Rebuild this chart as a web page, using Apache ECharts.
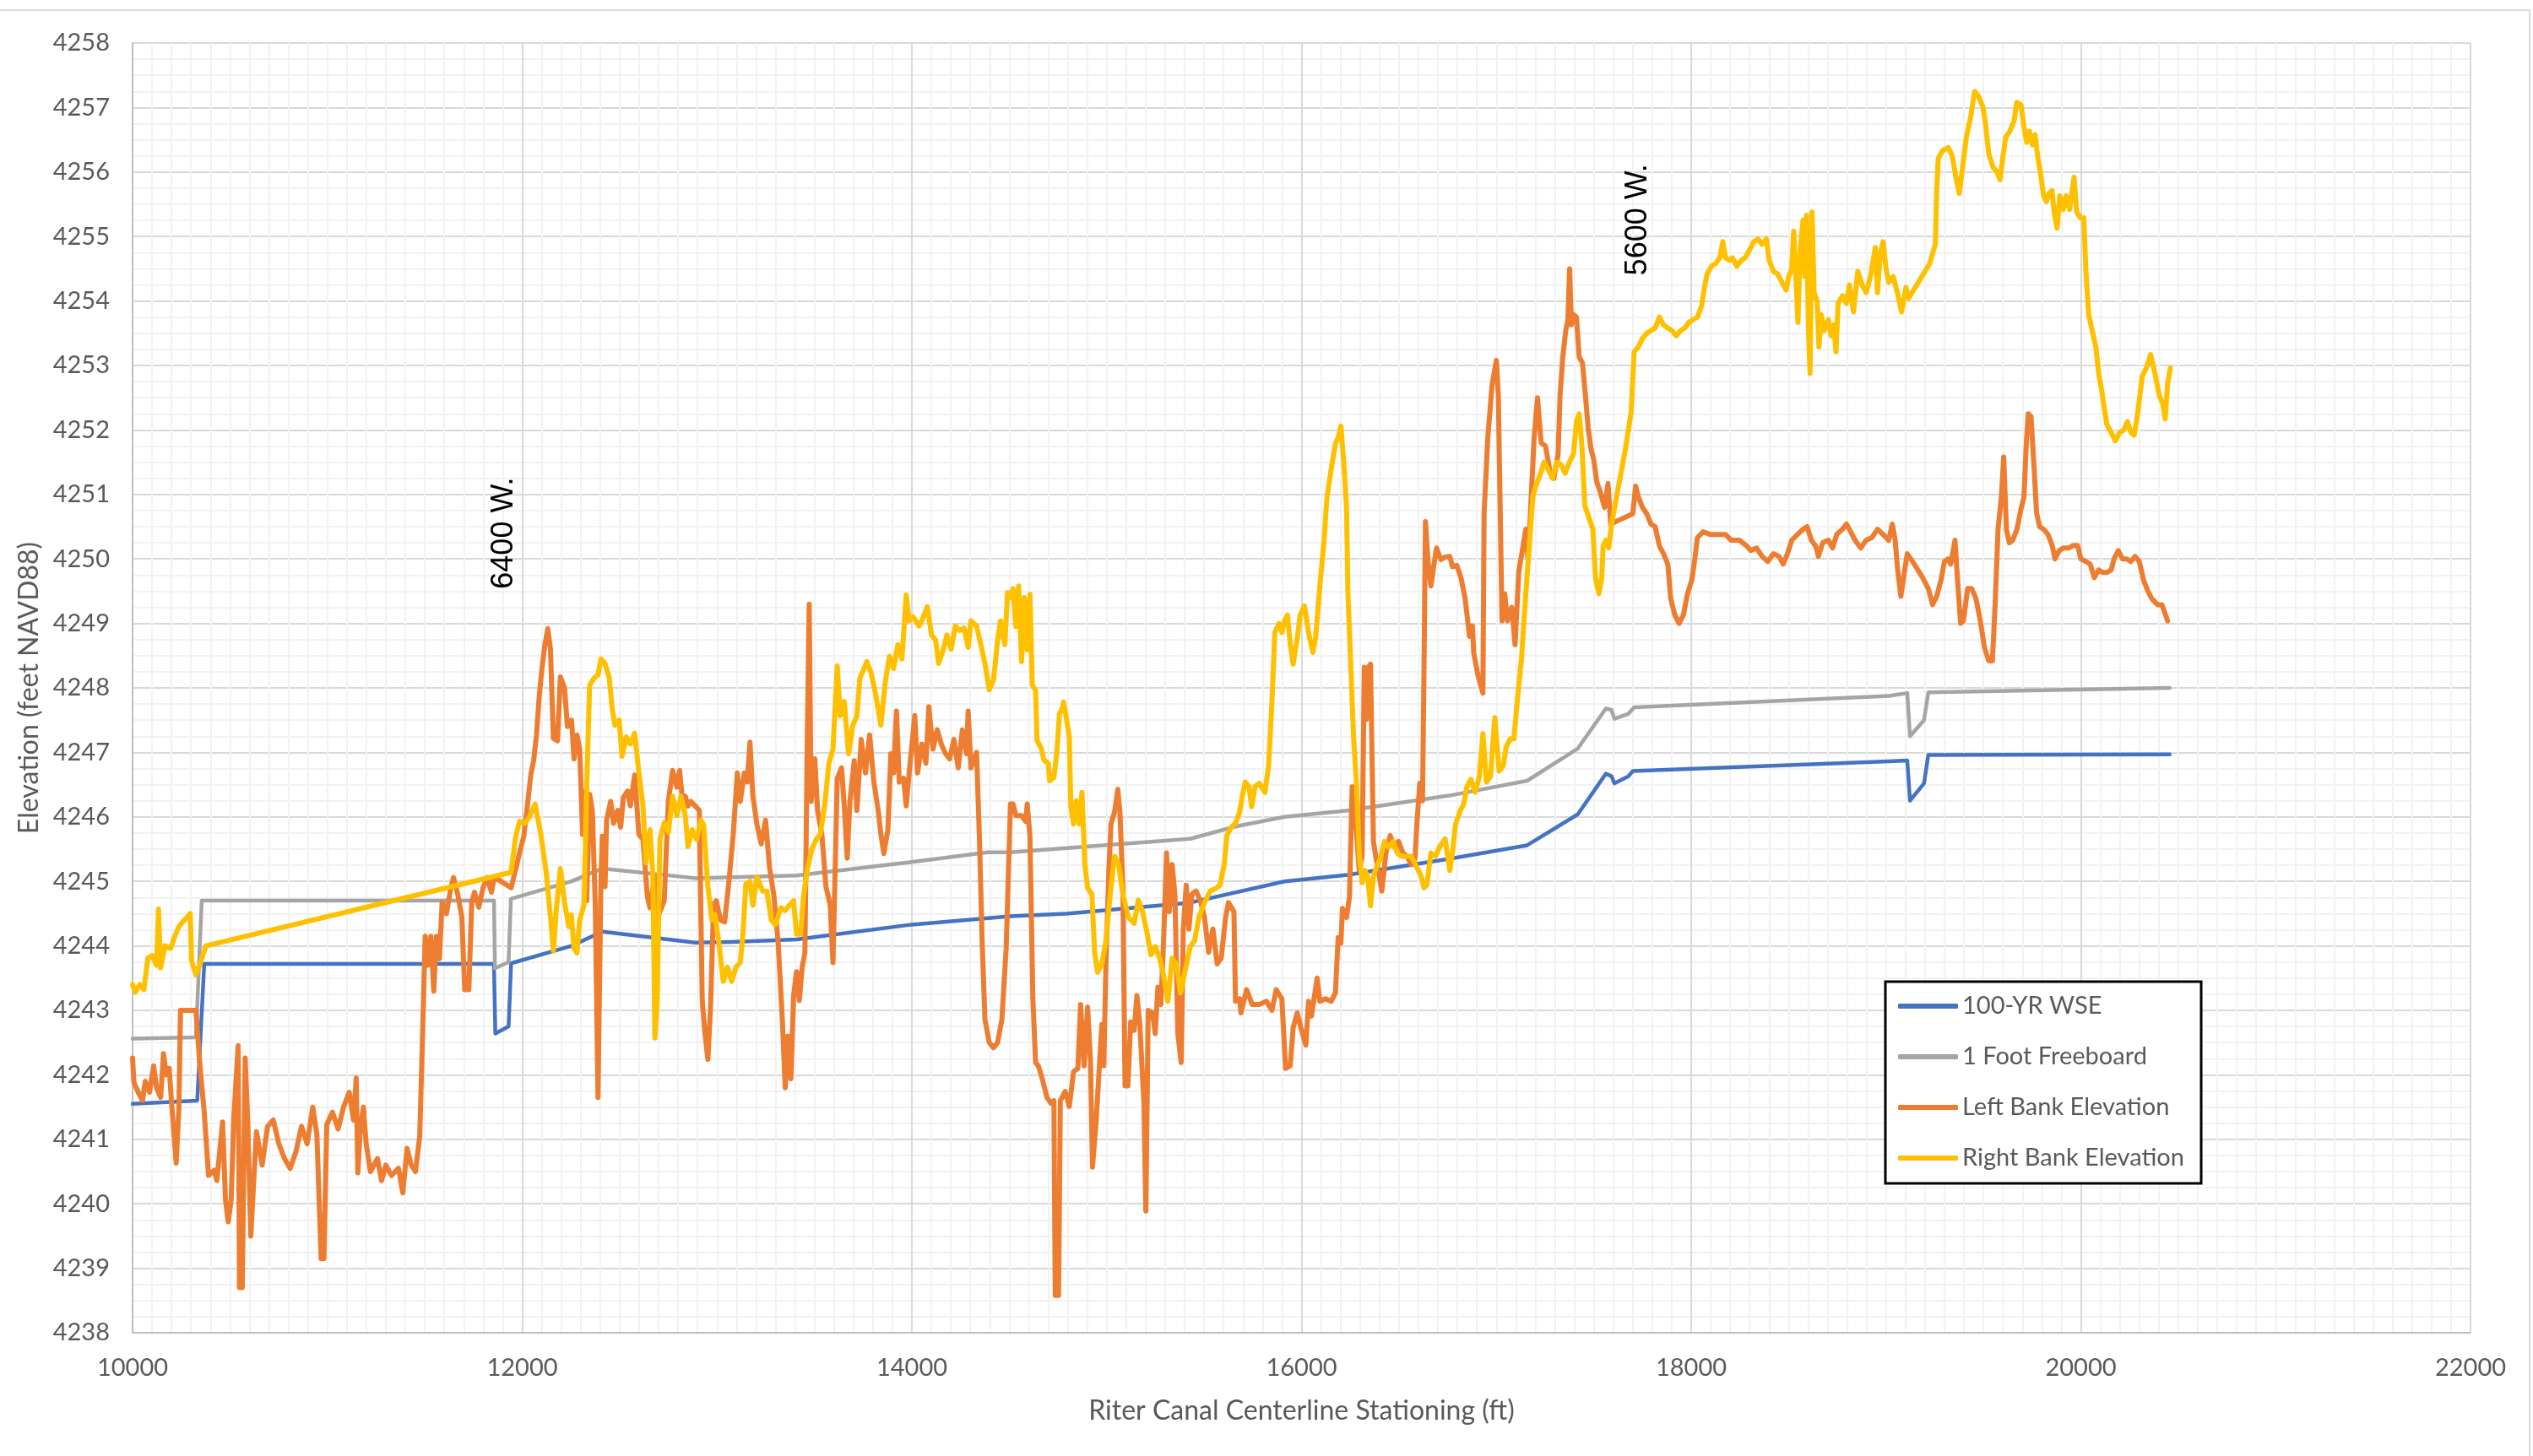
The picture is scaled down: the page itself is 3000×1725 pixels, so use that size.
<!DOCTYPE html>
<html>
<head>
<meta charset="utf-8">
<title>Riter Canal Bank Elevations</title>
<script src="https://cdn.jsdelivr.net/npm/echarts@6/dist/echarts.min.js"></script>
<style>
  html, body { margin: 0; padding: 0; background: #ffffff; }
  #chart { width: 3000px; height: 1725px; }
</style>
</head>
<body>
<div id="chart"></div>
<script>
// Axis ranges (feet of stationing / feet NAVD88)
const stationAxis = { min: 10000, max: 22000, step: 2000, minorSplit: 20 };
const elevationAxis = { min: 4238, max: 4258, step: 1, minorSplit: 4 };

// Series names
const seriesNames = ['100-YR WSE', '1 Foot Freeboard', 'Left Bank Elevation', 'Right Bank Elevation'];

// [station, elevation] pairs
const wse100yr = [
  [10000,4241.55],[10332,4241.6],[10368,4243.72],[11855,4243.72],[11862,4242.64],[11930,4242.75],
  [11943,4243.73],[12253,4244.0],[12411,4244.22],[12888,4244.05],[13075,4244.06],[13408,4244.1],
  [14000,4244.33],[14506,4244.46],[14793,4244.5],[15429,4244.67],[15913,4245.0],[16238,4245.1],
  [16758,4245.35],[17158,4245.56],[17418,4246.04],[17562,4246.67],[17591,4246.63],[17606,4246.52],
  [17678,4246.63],[17700,4246.71],[19014,4246.86],[19109,4246.875],[19123,4246.25],[19195,4246.52],
  [19217,4246.96],[20456,4246.97]
];

const freeboard1ft = [
  [10000,4242.56],[10325,4242.58],[10355,4244.7],[11855,4244.7],[11860,4243.65],[11930,4243.75],
  [11942,4244.73],[12253,4245.0],[12411,4245.2],[12888,4245.05],[13408,4245.09],[14000,4245.3],
  [14390,4245.45],[14506,4245.45],[15429,4245.66],[15660,4245.85],[15913,4246.0],[16238,4246.1],
  [16758,4246.33],[17158,4246.56],[17418,4247.06],[17562,4247.68],[17591,4247.66],[17606,4247.52],
  [17678,4247.6],[17707,4247.7],[19014,4247.875],[19109,4247.92],[19123,4247.25],[19195,4247.5],
  [19217,4247.93],[20456,4248.0]
];

const leftBank = [
  [10000,4242.26],[10007,4241.88],[10029,4241.73],[10051,4241.6],[10065,4241.9],[10087,4241.73],[10108,4242.14],
  [10123,4241.8],[10144,4241.65],[10159,4242.33],[10173,4242.0],[10188,4242.1],[10202,4241.5],[10224,4240.63],
  [10238,4241.5],[10246,4243.0],[10325,4243.0],[10347,4242.1],[10368,4241.42],[10390,4240.44],[10419,4240.52],
  [10433,4240.36],[10462,4241.27],[10477,4240.06],[10491,4239.72],[10506,4240.06],[10520,4241.35],[10535,4242.1],
  [10542,4242.45],[10549,4238.7],[10563,4238.7],[10578,4242.26],[10592,4241.2],[10607,4239.5],[10621,4240.3],
  [10636,4241.12],[10665,4240.6],[10693,4241.2],[10722,4241.3],[10751,4240.93],[10780,4240.7],[10809,4240.55],
  [10838,4240.8],[10867,4241.2],[10896,4240.93],[10925,4241.5],[10946,4241.08],[10968,4239.15],[10982,4239.15],
  [10997,4241.23],[11026,4241.42],[11055,4241.16],[11083,4241.5],[11112,4241.73],[11134,4241.3],[11148,4241.95],
  [11156,4240.48],[11170,4241.2],[11185,4241.5],[11199,4240.93],[11221,4240.5],[11257,4240.7],[11278,4240.36],
  [11300,4240.6],[11329,4240.44],[11365,4240.55],[11387,4240.17],[11409,4240.86],[11430,4240.6],[11452,4240.5],
  [11474,4241.05],[11488,4242.56],[11502,4244.15],[11517,4243.7],[11531,4244.15],[11546,4243.3],[11560,4244.15],
  [11575,4243.8],[11589,4244.68],[11611,4244.5],[11632,4244.87],[11647,4245.06],[11669,4244.8],[11690,4244.45],
  [11705,4243.32],[11726,4243.32],[11741,4244.68],[11755,4244.83],[11777,4244.6],[11799,4244.9],[11820,4245.06],
  [11842,4244.83],[11856,4245.06],[11892,4245.0],[11943,4244.9],[11965,4245.17],[11986,4245.44],[12008,4245.7],
  [12022,4246.05],[12044,4246.65],[12059,4246.88],[12073,4247.26],[12087,4247.86],[12102,4248.32],[12116,4248.66],
  [12131,4248.92],[12145,4248.6],[12160,4247.22],[12181,4247.18],[12196,4248.17],[12217,4248.0],[12232,4247.4],
  [12253,4247.5],[12266,4246.9],[12281,4247.27],[12295,4247.05],[12310,4245.73],[12324,4246.4],[12331,4244.7],
  [12346,4246.35],[12360,4246.1],[12375,4244.63],[12389,4241.65],[12404,4245.0],[12411,4245.7],[12425,4244.92],
  [12433,4245.95],[12454,4246.24],[12469,4245.9],[12490,4246.1],[12505,4245.84],[12519,4246.3],[12541,4246.4],
  [12555,4246.17],[12577,4246.65],[12599,4245.73],[12620,4245.65],[12642,4244.77],[12656,4244.59],[12678,4245.07],
  [12700,4244.48],[12729,4244.7],[12750,4246.24],[12772,4246.72],[12794,4246.46],[12808,4246.72],[12823,4246.24],
  [12837,4246.32],[12851,4246.17],[12866,4246.24],[12888,4246.17],[12909,4246.1],[12924,4243.15],[12938,4242.64],
  [12953,4242.24],[12967,4243.08],[12982,4244.63],[12996,4244.7],[13018,4244.4],[13039,4244.37],[13061,4245.0],
  [13083,4245.73],[13104,4246.68],[13119,4246.24],[13140,4246.68],[13155,4246.54],[13169,4247.16],[13184,4246.32],
  [13205,4245.88],[13227,4245.58],[13249,4245.95],[13270,4245.2],[13292,4244.77],[13314,4244.04],[13336,4242.8],
  [13350,4241.8],[13364,4242.6],[13379,4241.94],[13393,4243.23],[13408,4243.6],[13422,4243.15],[13437,4243.67],
  [13451,4243.89],[13463,4247.2],[13473,4249.3],[13483,4246.24],[13502,4246.9],[13516,4246.1],[13538,4245.73],
  [13559,4244.92],[13581,4244.63],[13595,4243.74],[13617,4246.6],[13639,4246.76],[13653,4246.17],[13668,4245.36],
  [13682,4246.24],[13704,4246.87],[13718,4246.1],[13740,4247.2],[13762,4246.68],[13783,4247.27],[13805,4246.54],
  [13827,4246.1],[13841,4245.73],[13856,4245.43],[13877,4245.8],[13892,4246.98],[13906,4246.68],[13921,4247.64],
  [13935,4246.54],[13957,4246.6],[13971,4246.17],[13986,4246.68],[14015,4247.57],[14029,4246.68],[14051,4247.13],
  [14072,4246.83],[14087,4247.71],[14108,4247.05],[14130,4247.35],[14151,4247.13],[14173,4246.98],[14194,4246.9],
  [14216,4247.2],[14238,4246.76],[14259,4247.35],[14281,4246.98],[14289,4247.64],[14303,4246.76],[14332,4247.0],
  [14347,4245.65],[14361,4244.04],[14375,4242.86],[14397,4242.5],[14419,4242.42],[14440,4242.5],[14462,4242.86],
  [14484,4243.96],[14506,4246.2],[14519,4246.2],[14534,4246.02],[14563,4246.02],[14584,4245.93],[14592,4246.2],
  [14606,4245.7],[14621,4243.18],[14635,4242.19],[14649,4242.14],[14671,4241.92],[14693,4241.65],[14714,4241.56],
  [14729,4241.6],[14736,4238.58],[14753,4238.58],[14762,4241.6],[14787,4241.74],[14808,4241.51],[14830,4242.05],
  [14852,4242.1],[14866,4243.09],[14884,4242.14],[14902,4243.05],[14917,4242.19],[14927,4240.57],[14946,4241.29],
  [14960,4242.01],[14975,4242.78],[14985,4242.14],[14996,4243.72],[15011,4245.17],[15022,4245.89],[15040,4246.07],
  [15057,4246.43],[15068,4246.07],[15083,4244.9],[15094,4241.83],[15109,4241.83],[15123,4242.82],[15141,4242.69],
  [15155,4243.23],[15170,4242.78],[15191,4241.56],[15201,4239.89],[15213,4243.0],[15235,4242.96],[15249,4242.64],
  [15263,4243.36],[15278,4243.09],[15292,4244.08],[15307,4245.44],[15321,4244.53],[15336,4245.26],[15350,4244.8],
  [15365,4242.64],[15382,4242.19],[15393,4244.26],[15408,4244.94],[15422,4244.26],[15437,4244.8],[15458,4244.85],
  [15480,4244.71],[15502,4244.44],[15523,4243.9],[15545,4244.26],[15567,4243.72],[15588,4243.81],[15610,4244.44],
  [15625,4244.67],[15653,4244.53],[15661,4243.14],[15682,4243.18],[15689,4242.96],[15718,4243.32],[15747,4243.09],
  [15783,4243.09],[15820,4243.14],[15848,4243.0],[15870,4243.32],[15899,4243.18],[15918,4242.1],[15942,4242.14],
  [15957,4242.73],[15978,4242.96],[16000,4242.69],[16022,4242.46],[16036,4243.14],[16051,4242.91],[16080,4243.5],
  [16094,4243.14],[16123,4243.18],[16152,4243.14],[16174,4243.27],[16188,4244.13],[16202,4244.04],[16210,4244.58],
  [16231,4244.44],[16246,4244.76],[16260,4246.47],[16275,4246.07],[16296,4245.17],[16311,4245.39],[16322,4248.32],
  [16332,4247.51],[16343,4248.32],[16354,4248.37],[16369,4245.62],[16383,4245.35],[16397,4245.12],[16412,4244.85],
  [16433,4245.44],[16455,4245.71],[16477,4245.53],[16498,4245.62],[16520,4245.44],[16542,4245.39],[16563,4245.26],
  [16582,4245.35],[16592,4245.89],[16607,4246.52],[16621,4246.25],[16628,4248.14],[16636,4250.58],[16650,4249.94],
  [16664,4249.58],[16679,4249.9],[16693,4250.17],[16715,4249.99],[16737,4250.03],[16761,4250.04],[16775,4249.88],
  [16797,4249.9],[16819,4249.7],[16840,4249.38],[16862,4248.8],[16877,4248.96],[16884,4248.54],[16905,4248.2],
  [16931,4247.92],[16937,4250.7],[16956,4251.88],[16978,4252.7],[17000,4253.08],[17010,4252.54],[17029,4249.04],
  [17043,4249.46],[17057,4249.04],[17079,4249.25],[17096,4248.67],[17115,4249.8],[17137,4250.2],[17151,4250.46],
  [17163,4249.96],[17180,4251.04],[17194,4251.88],[17211,4252.5],[17230,4251.8],[17252,4251.75],[17274,4251.38],
  [17295,4251.25],[17317,4251.63],[17327,4252.54],[17341,4253.13],[17356,4253.54],[17367,4253.7],[17376,4254.5],
  [17385,4253.63],[17396,4253.79],[17411,4253.75],[17425,4253.13],[17442,4253.04],[17457,4252.54],[17471,4252.04],
  [17486,4251.7],[17500,4251.54],[17515,4251.2],[17533,4251.04],[17555,4250.8],[17573,4251.17],[17587,4250.54],
  [17613,4250.58],[17700,4250.7],[17715,4251.13],[17729,4250.96],[17750,4250.8],[17772,4250.7],[17793,4250.54],
  [17815,4250.5],[17837,4250.2],[17858,4250.08],[17880,4249.92],[17895,4249.38],[17916,4249.13],[17938,4249.0],
  [17960,4249.13],[17981,4249.46],[18003,4249.67],[18017,4249.96],[18032,4250.33],[18061,4250.42],[18097,4250.38],
  [18133,4250.38],[18176,4250.38],[18205,4250.29],[18248,4250.29],[18285,4250.2],[18306,4250.13],[18335,4250.17],
  [18364,4250.04],[18393,4249.96],[18422,4250.08],[18451,4250.04],[18472,4249.92],[18494,4250.08],[18516,4250.29],
  [18545,4250.38],[18574,4250.46],[18595,4250.5],[18617,4250.29],[18639,4250.2],[18653,4250.04],[18675,4250.25],
  [18704,4250.29],[18726,4250.17],[18747,4250.38],[18776,4250.46],[18797,4250.54],[18819,4250.42],[18841,4250.29],
  [18870,4250.17],[18898,4250.29],[18927,4250.33],[18956,4250.46],[18985,4250.38],[19014,4250.29],[19032,4250.54],
  [19047,4250.29],[19058,4249.88],[19076,4249.42],[19094,4249.79],[19109,4250.08],[19145,4249.92],[19188,4249.71],
  [19217,4249.54],[19239,4249.29],[19260,4249.42],[19282,4249.67],[19300,4249.96],[19318,4250.0],[19332,4249.92],
  [19354,4250.29],[19368,4249.63],[19383,4249.0],[19397,4249.04],[19419,4249.54],[19440,4249.54],[19462,4249.38],
  [19484,4249.04],[19505,4248.63],[19527,4248.42],[19546,4248.42],[19560,4249.29],[19575,4250.46],[19592,4250.96],
  [19604,4251.58],[19618,4250.46],[19633,4250.25],[19650,4250.29],[19672,4250.46],[19691,4250.75],[19708,4250.96],
  [19720,4251.79],[19730,4252.25],[19744,4252.21],[19759,4251.46],[19773,4250.71],[19788,4250.5],[19809,4250.46],
  [19831,4250.38],[19853,4250.21],[19867,4250.0],[19889,4250.13],[19910,4250.17],[19939,4250.17],[19961,4250.21],
  [19983,4250.21],[20000,4250.0],[20026,4249.96],[20048,4249.92],[20069,4249.71],[20091,4249.83],[20113,4249.79],
  [20134,4249.79],[20156,4249.83],[20170,4250.0],[20192,4250.13],[20214,4250.0],[20236,4250.0],[20257,4249.96],
  [20278,4250.04],[20300,4249.96],[20322,4249.67],[20344,4249.5],[20365,4249.38],[20394,4249.29],[20416,4249.29],
  [20430,4249.17],[20445,4249.04]
];

const rightBank = [
  [10000,4243.4],[10014,4243.28],[10036,4243.4],[10058,4243.32],[10079,4243.81],[10101,4243.85],[10123,4243.7],
  [10133,4244.57],[10144,4243.66],[10166,4244.0],[10195,4243.96],[10217,4244.15],[10238,4244.3],[10260,4244.38],
  [10282,4244.45],[10296,4244.5],[10303,4243.77],[10325,4243.55],[10347,4243.73],[10376,4244.0],[11943,4245.14],
  [11965,4245.67],[11986,4245.93],[12015,4245.9],[12037,4246.0],[12066,4246.2],[12095,4245.74],[12123,4245.14],
  [12145,4244.45],[12160,4243.92],[12174,4244.53],[12196,4245.2],[12217,4244.68],[12239,4244.3],[12252,4244.48],
  [12266,4243.96],[12281,4243.89],[12295,4244.4],[12317,4244.63],[12331,4246.46],[12346,4248.04],[12368,4248.15],
  [12389,4248.2],[12404,4248.45],[12425,4248.38],[12447,4248.15],[12461,4247.7],[12476,4247.42],[12498,4247.5],
  [12512,4246.94],[12534,4247.24],[12555,4247.13],[12577,4247.3],[12599,4246.68],[12620,4246.17],[12635,4245.29],
  [12656,4245.8],[12671,4245.07],[12681,4242.57],[12693,4243.15],[12707,4245.65],[12729,4245.91],[12750,4245.76],
  [12772,4246.32],[12794,4246.02],[12815,4246.32],[12837,4246.02],[12851,4245.54],[12873,4245.8],[12895,4245.65],
  [12917,4245.95],[12931,4245.88],[12953,4244.92],[12974,4244.4],[12989,4244.48],[13010,4244.04],[13032,4243.45],
  [13054,4243.67],[13075,4243.45],[13097,4243.67],[13119,4243.74],[13133,4244.18],[13148,4244.96],[13169,4245.0],
  [13184,4244.63],[13205,4245.07],[13234,4244.85],[13256,4244.85],[13278,4244.4],[13299,4244.33],[13328,4244.59],
  [13350,4244.55],[13371,4244.63],[13393,4244.7],[13408,4244.18],[13429,4244.18],[13444,4244.77],[13465,4245.21],
  [13487,4245.5],[13509,4245.65],[13530,4245.73],[13552,4246.17],[13574,4246.83],[13595,4247.05],[13617,4248.34],
  [13632,4247.57],[13653,4247.79],[13675,4246.98],[13697,4247.42],[13718,4247.57],[13733,4248.15],[13755,4248.3],
  [13769,4248.41],[13791,4248.23],[13812,4247.93],[13841,4247.42],[13863,4248.08],[13885,4248.49],[13906,4248.3],
  [13928,4248.67],[13949,4248.45],[13971,4249.44],[13986,4249.04],[14007,4249.1],[14036,4248.96],[14051,4249.04],
  [14079,4249.26],[14101,4248.82],[14122,4248.74],[14137,4248.38],[14158,4248.56],[14180,4248.82],[14202,4248.6],
  [14223,4248.96],[14245,4248.89],[14267,4248.93],[14289,4248.63],[14303,4249.04],[14332,4248.96],[14354,4248.67],
  [14375,4248.38],[14397,4247.97],[14419,4248.12],[14440,4248.74],[14455,4249.04],[14477,4248.67],[14491,4249.48],
  [14505,4249.4],[14519,4249.54],[14534,4248.95],[14548,4249.58],[14563,4248.41],[14577,4249.4],[14592,4248.59],
  [14606,4249.45],[14618,4248.05],[14635,4247.96],[14642,4247.19],[14664,4247.06],[14678,4246.88],[14700,4246.83],
  [14707,4246.56],[14729,4246.61],[14743,4246.97],[14758,4247.6],[14772,4247.69],[14779,4247.78],[14794,4247.51],
  [14808,4247.24],[14816,4246.16],[14830,4245.89],[14844,4246.25],[14859,4245.89],[14873,4246.38],[14888,4245.26],
  [14902,4244.9],[14924,4244.8],[14938,4243.9],[14953,4243.59],[14975,4243.72],[14996,4244.08],[15018,4244.8],
  [15040,4245.39],[15061,4245.26],[15083,4244.8],[15112,4244.44],[15141,4244.35],[15162,4244.71],[15184,4244.53],
  [15206,4244.22],[15227,4243.86],[15249,4243.99],[15271,4243.81],[15292,4243.54],[15314,4243.14],[15336,4243.81],
  [15357,4243.72],[15379,4243.27],[15401,4243.59],[15429,4243.99],[15451,4244.08],[15473,4244.44],[15502,4244.67],
  [15531,4244.85],[15559,4244.89],[15581,4244.94],[15603,4245.26],[15617,4245.71],[15639,4245.84],[15661,4245.9],
  [15682,4246.07],[15697,4246.34],[15711,4246.54],[15730,4246.47],[15744,4246.16],[15762,4246.47],[15783,4246.52],
  [15812,4246.38],[15831,4246.79],[15848,4247.78],[15863,4248.86],[15885,4249.0],[15899,4248.86],[15913,4249.04],
  [15928,4249.13],[15942,4248.68],[15957,4248.37],[15978,4248.77],[15993,4249.13],[16015,4249.27],[16036,4248.86],
  [16058,4248.55],[16072,4248.77],[16094,4249.58],[16116,4250.3],[16130,4250.94],[16152,4251.39],[16174,4251.79],
  [16188,4251.88],[16202,4252.06],[16217,4251.48],[16231,4250.8],[16238,4249.49],[16253,4248.32],[16267,4247.24],
  [16282,4246.52],[16296,4245.44],[16311,4244.98],[16325,4245.17],[16339,4245.08],[16354,4244.62],[16369,4245.08],
  [16383,4245.21],[16404,4245.35],[16426,4245.62],[16448,4245.53],[16470,4245.62],[16491,4245.44],[16513,4245.39],
  [16542,4245.39],[16563,4245.39],[16585,4245.26],[16614,4245.08],[16628,4244.9],[16643,4244.94],[16664,4245.44],
  [16687,4245.39],[16708,4245.53],[16737,4245.66],[16761,4245.17],[16775,4245.46],[16790,4245.88],[16812,4246.08],
  [16833,4246.2],[16848,4246.46],[16869,4246.58],[16891,4246.38],[16913,4246.63],[16931,4247.29],[16949,4246.54],
  [16970,4246.63],[16992,4247.54],[17014,4246.71],[17035,4246.79],[17050,4247.08],[17071,4247.21],[17090,4247.21],
  [17107,4247.79],[17129,4248.46],[17151,4249.46],[17173,4250.38],[17187,4250.96],[17202,4251.13],[17223,4251.29],
  [17245,4251.5],[17267,4251.38],[17288,4251.25],[17310,4251.5],[17332,4251.46],[17353,4251.33],[17375,4251.5],
  [17396,4251.63],[17411,4252.13],[17425,4252.25],[17440,4251.71],[17454,4250.83],[17476,4250.63],[17495,4250.46],
  [17509,4249.71],[17526,4249.46],[17541,4249.71],[17548,4250.21],[17562,4250.29],[17577,4250.17],[17591,4250.54],
  [17627,4251.13],[17663,4251.71],[17692,4252.29],[17707,4253.21],[17729,4253.29],[17750,4253.42],[17772,4253.5],
  [17793,4253.54],[17815,4253.58],[17837,4253.75],[17858,4253.63],[17880,4253.58],[17902,4253.54],[17923,4253.46],
  [17945,4253.54],[17967,4253.58],[17988,4253.67],[18010,4253.71],[18032,4253.75],[18053,4253.92],[18068,4254.21],
  [18082,4254.42],[18104,4254.54],[18125,4254.58],[18147,4254.67],[18162,4254.92],[18176,4254.67],[18198,4254.63],
  [18212,4254.67],[18234,4254.54],[18256,4254.63],[18277,4254.67],[18299,4254.79],[18321,4254.92],[18342,4254.96],
  [18364,4254.88],[18386,4254.96],[18400,4254.63],[18422,4254.46],[18443,4254.42],[18466,4254.29],[18487,4254.17],
  [18501,4254.38],[18516,4254.5],[18526,4255.08],[18537,4254.38],[18548,4253.67],[18559,4254.79],[18574,4255.25],
  [18584,4254.38],[18592,4255.33],[18602,4253.54],[18610,4252.88],[18620,4255.38],[18631,4254.13],[18646,4254.0],
  [18656,4253.29],[18667,4253.79],[18682,4253.54],[18704,4253.71],[18718,4253.46],[18733,4253.63],[18743,4253.21],
  [18754,4253.96],[18776,4254.08],[18797,4253.96],[18812,4254.25],[18833,4253.83],[18855,4254.46],[18877,4254.25],
  [18898,4254.13],[18920,4254.38],[18934,4254.63],[18945,4254.83],[18956,4254.13],[18971,4254.75],[18985,4254.92],
  [19000,4254.5],[19014,4254.29],[19037,4254.38],[19058,4254.13],[19080,4253.83],[19102,4254.21],[19116,4254.04],
  [19224,4254.58],[19253,4254.88],[19260,4255.71],[19268,4256.21],[19289,4256.33],[19319,4256.38],[19340,4256.25],
  [19361,4255.88],[19376,4255.67],[19390,4256.0],[19412,4256.54],[19433,4256.83],[19455,4257.25],[19476,4257.17],
  [19498,4257.0],[19512,4256.71],[19527,4256.29],[19548,4256.08],[19570,4256.0],[19585,4255.88],[19599,4256.21],
  [19614,4256.54],[19635,4256.63],[19657,4256.79],[19671,4257.08],[19693,4257.04],[19707,4256.71],[19722,4256.46],
  [19736,4256.63],[19751,4256.42],[19765,4256.58],[19780,4256.21],[19794,4255.96],[19809,4255.63],[19823,4255.54],
  [19838,4255.67],[19852,4255.71],[19863,4255.38],[19878,4255.13],[19892,4255.63],[19910,4255.42],[19924,4255.63],
  [19942,4255.42],[19953,4255.67],[19965,4255.92],[19979,4255.38],[19997,4255.29],[20015,4255.29],[20026,4254.46],
  [20040,4253.79],[20058,4253.54],[20077,4253.29],[20091,4252.88],[20106,4252.63],[20116,4252.42],[20134,4252.08],
  [20156,4251.96],[20177,4251.83],[20199,4251.96],[20221,4252.0],[20239,4252.13],[20257,4251.96],[20274,4251.92],
  [20293,4252.29],[20315,4252.83],[20336,4252.96],[20358,4253.17],[20380,4252.88],[20402,4252.54],[20419,4252.42],
  [20433,4252.17],[20445,4252.71],[20459,4252.96]
];

// Street crossings, placed by station / elevation
const crossings = [
  { text: '6400 W.', station: 11907, elevation: 4250.4 },
  { text: '5600 W.', station: 17727, elevation: 4255.26 }
];

const seriesColors = ['#4472C4', '#A5A5A5', '#ED7D31', '#FFC000'];
const seriesWidths = [4.5, 4.5, 6, 6];
const seriesData = [wse100yr, freeboard1ft, leftBank, rightBank];

const labelColor = '#595959';
const uiFont = 'Lato, "Open Sans", sans-serif';
const plainNumber = v => String(v);

const chart = echarts.init(document.getElementById('chart'), null, { renderer: 'canvas' });

const option = {
  animation: false,
  backgroundColor: '#ffffff',
  grid: { left: 157, top: 51, right: 74, bottom: 146, containLabel: false },
  xAxis: {
    type: 'value',
    min: stationAxis.min,
    max: stationAxis.max,
    interval: stationAxis.step,
    name: 'Riter Canal Centerline Stationing (ft)',
    nameLocation: 'middle',
    nameGap: 77,
    nameTextStyle: { color: labelColor, fontSize: 32, fontFamily: uiFont },
    axisLine: { show: true, lineStyle: { color: '#bfbfbf', width: 2 } },
    axisTick: { show: false },
    axisLabel: { color: labelColor, fontSize: 29, fontFamily: uiFont, margin: 27, formatter: plainNumber },
    splitLine: { show: true, lineStyle: { color: '#d9d9d9', width: 2 } },
    minorTick: { show: false, splitNumber: stationAxis.minorSplit },
    minorSplitLine: { show: true, lineStyle: { color: '#f2f2f2', width: 2 } }
  },
  yAxis: {
    type: 'value',
    min: elevationAxis.min,
    max: elevationAxis.max,
    interval: elevationAxis.step,
    name: 'Elevation (feet NAVD88)',
    nameLocation: 'middle',
    nameGap: 106,
    nameTextStyle: { color: labelColor, fontSize: 32, fontFamily: uiFont },
    axisLine: { show: true, lineStyle: { color: '#bfbfbf', width: 2 } },
    axisTick: { show: false },
    axisLabel: { color: labelColor, fontSize: 29, fontFamily: uiFont, margin: 27, formatter: plainNumber },
    splitLine: { show: true, lineStyle: { color: '#d9d9d9', width: 2 } },
    minorTick: { show: false, splitNumber: elevationAxis.minorSplit },
    minorSplitLine: { show: true, lineStyle: { color: '#f2f2f2', width: 2 } }
  },
  legend: {
    show: true,
    orient: 'vertical',
    left: 2248,
    top: 1175,
    padding: 0,
    itemWidth: 71,
    itemHeight: 6,
    itemGap: 26,
    icon: 'roundRect',
    data: seriesNames,
    selectedMode: false,
    textStyle: { color: labelColor, fontSize: 29, fontFamily: uiFont, lineHeight: 34 },
    z: 10
  },
  series: seriesNames.map((name, i) => ({
    name: name,
    type: 'line',
    data: seriesData[i],
    showSymbol: false,
    symbol: 'none',
    smooth: false,
    lineStyle: { color: seriesColors[i], width: seriesWidths[i], join: 'round', cap: 'round' },
    itemStyle: { color: seriesColors[i] },
    z: 2 + i
  }))
};

chart.setOption(option);

// Outer chart frame, legend box and street-crossing labels
const graphics = [
  {
    type: 'rect', z: 0, silent: true,
    shape: { x: -2, y: 12, width: 2998, height: 1730 },
    style: { fill: 'none', stroke: '#d9d9d9', lineWidth: 2 }
  },
  {
    type: 'rect', z: 8, silent: true,
    shape: { x: 2233, y: 1163, width: 374, height: 239 },
    style: { fill: '#ffffff', stroke: '#000000', lineWidth: 3 }
  }
];
crossings.forEach(c => {
  const p = chart.convertToPixel({ gridIndex: 0 }, [c.station, c.elevation]);
  graphics.push({
    type: 'text', z: 9, silent: true,
    x: p[0], y: p[1], rotation: Math.PI / 2,
    style: {
      text: c.text, fill: '#000000', fontSize: 36,
      fontFamily: '"Liberation Sans", Arial, sans-serif',
      align: 'center', verticalAlign: 'middle'
    }
  });
});
chart.setOption({ graphic: graphics });
</script>
</body>
</html>
